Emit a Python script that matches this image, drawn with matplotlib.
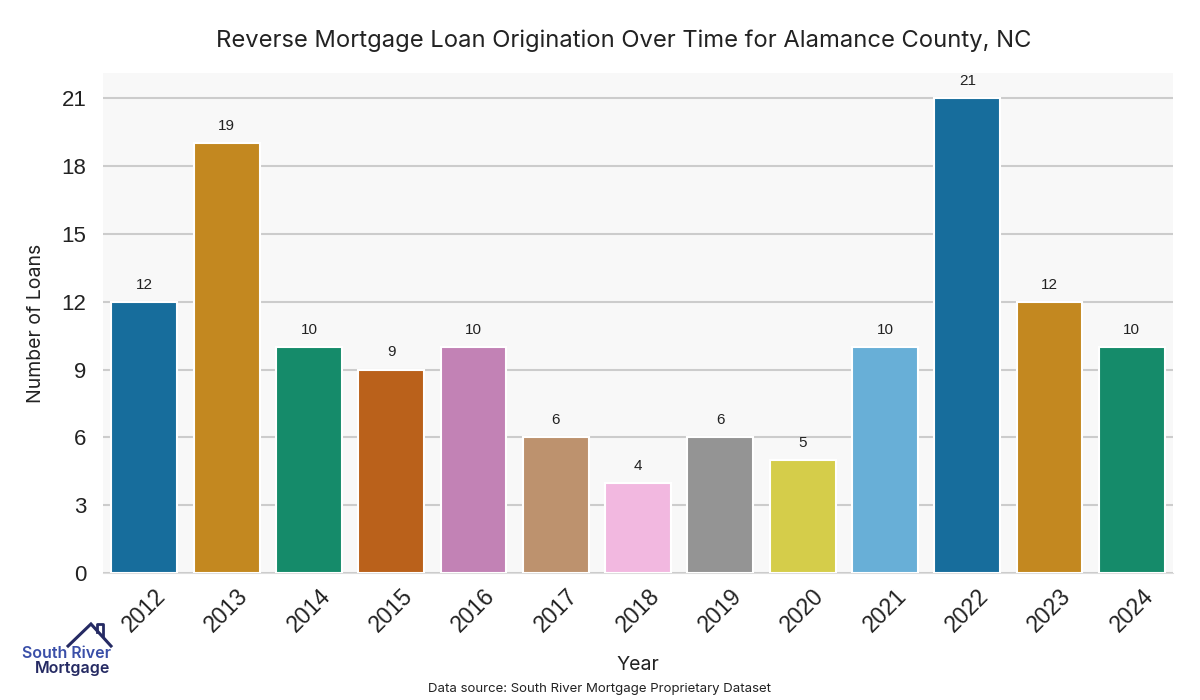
import matplotlib
matplotlib.use('Agg')
import matplotlib.pyplot as plt
import seaborn as sns
import numpy as np
from matplotlib.lines import Line2D

years = ['2012', '2013', '2014', '2015', '2016', '2017', '2018',
         '2019', '2020', '2021', '2022', '2023', '2024']
loans = [12, 19, 10, 9, 10, 6, 4, 6, 5, 10, 21, 12, 10]

title = 'Reverse Mortgage Loan Origination Over Time for Alamance County, NC'
source = 'Data source: South River Mortgage Proprietary Dataset'

palette = sns.color_palette('colorblind', 10)
colors = [palette[i % 10] for i in range(len(years))]
# seaborn's default bar desaturation
colors = [sns.desaturate(c, 0.75) for c in colors]

title_font = ['Inter', 'DejaVu Sans']
tick_font = ['Liberation Sans', 'DejaVu Sans']

fig = plt.figure(figsize=(12, 7), dpi=100)
ax = fig.add_axes([0.086, 0.181, 0.8915, 0.715])
ax.set_facecolor('#f8f8f8')

x = np.arange(len(years))
bars = ax.bar(x, loans, width=0.8, color=colors, edgecolor='white', linewidth=1.5, zorder=3)
ax.set_xlim(-0.5, len(years) - 0.5)
ax.set_ylim(0, max(loans) * 1.053)
ax.set_yticks(np.arange(0, 22, 3))
ax.set_xticks(x)
ax.set_xticklabels(years, rotation=45, fontsize=16.5, family=tick_font, color='#222222')
ax.tick_params(axis='y', labelsize=16, length=0, pad=12, labelcolor='#222222')
ax.tick_params(axis='x', length=0, pad=8)
for lab in ax.get_yticklabels():
    lab.set_family(tick_font)
ax.grid(axis='y', color='#cccccc', linewidth=1.5, zorder=0)
ax.set_axisbelow(True)
for s in ['top', 'right', 'left']:
    ax.spines[s].set_visible(False)
ax.spines['bottom'].set_color('#dddddd')

for xi, v in zip(x, loans):
    ax.text(xi, v + 0.45, str(v), ha='center', va='bottom', fontsize=11,
            family=tick_font, color='#222222')

ax.set_ylabel('Number of Loans', fontsize=14, family=title_font, color='#222222', labelpad=12)
ax.set_xlabel('Year', fontsize=14, family=title_font, color='#222222', labelpad=14)
fig.text(0.52, 0.942, title, ha='center', va='center', fontsize=17.1,
         family=title_font, color='#222222')
fig.text(0.5, 0.016, source, ha='center', va='center', fontsize=9.5,
         family=title_font, color='#222222')

# logo
navy = '#252a63'
fig.add_artist(Line2D([0.0567, 0.0758, 0.0925], [0.0771, 0.1086, 0.0771],
                      transform=fig.transFigure, color=navy, lw=2.2, solid_joinstyle='miter'))
fig.add_artist(Line2D([0.0808, 0.0808, 0.0858, 0.0858], [0.0971, 0.1086, 0.1086, 0.0914],
                      transform=fig.transFigure, color=navy, lw=2.0))
fig.text(0.0554, 0.0671, 'South River', ha='center', va='center', fontsize=11.5,
         family=title_font, color='#3a4fa8', fontweight='semibold')
fig.text(0.0608, 0.0443, 'Mortgage', ha='center', va='center', fontsize=11.5,
         family=title_font, color=navy, fontweight='semibold')

fig.savefig('out.png', dpi=100)
